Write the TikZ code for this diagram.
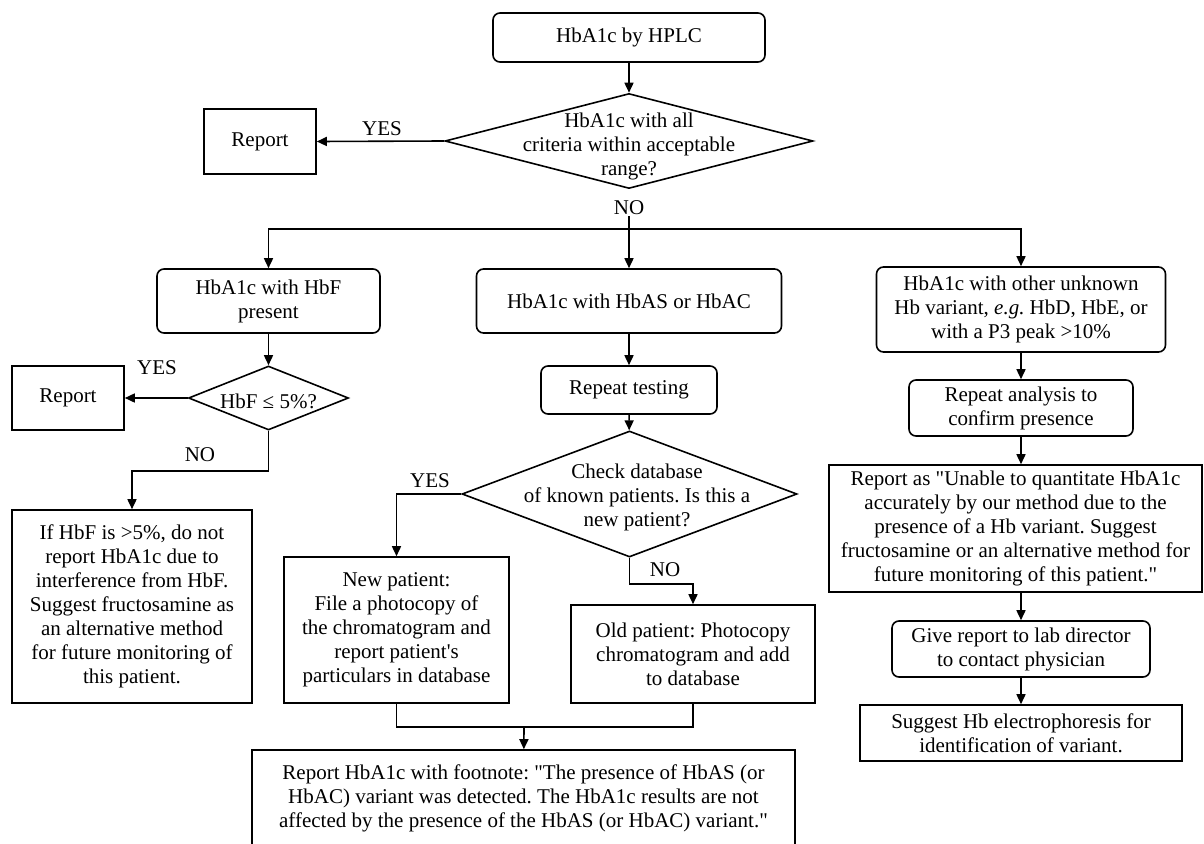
\documentclass[tikz,border=0pt]{standalone}
\usepackage{fontspec}
\setmainfont{Liberation Serif}[Ligatures=TeXOff]
\usetikzlibrary{shapes.geometric,arrows.meta}
\frenchspacing

\begin{document}
\begin{tikzpicture}[x=1pt,y=-1pt,font=\fontsize{21}{24}\selectfont]
	\tikzset{
		box/.style = {draw, line width=1.6pt, inner sep=0pt, align=center},
		rbox/.style = {box, rounded corners=7pt},
		decision/.style = {diamond, draw, line width=1.6pt, inner sep=0pt},
		txt/.style = {align=center, inner sep=1pt},
		arr/.style = {line width=1.6pt, -{Triangle[length=10pt,width=9pt]}},
		line/.style = {line width=1.6pt}
	}
	\useasboundingbox (0,0) rectangle (1204,843);
	\clip (0,0) rectangle (1204,843);

	\node[rbox, minimum width=272pt, minimum height=49pt] (top) at (629,37.5) {HbA1c by HPLC};
	\node[decision, minimum width=368pt, minimum height=95pt] (q1) at (629,141) {};
	\node[txt] (q1t) at (629,146) {HbA1c with all\\criteria within acceptable\\range?};
	\node[box, minimum width=112pt, minimum height=65pt] (rep1) at (260,141.5) {Report};
	\node[txt] (yes1) at (382,129) {YES};
	\node[txt] (no1) at (629,208) {NO};
	\coordinate (split) at (629,229);

	\node[rbox, minimum width=223pt, minimum height=64pt] (hbf) at (268.5,301) {HbA1c with HbF\\present};
	\node[rbox, minimum width=305pt, minimum height=64pt] (hbas) at (629,301) {HbA1c with HbAS or HbAC};
	\node[rbox, minimum width=289pt, minimum height=85pt] (other) at (1021,309.5) {HbA1c with other unknown\\Hb variant, \textit{e.g.} HbD, HbE, or\\with a P3 peak >10\%};

	\node[decision, minimum width=160pt, minimum height=64pt] (q2) at (268.5,398) {};
	\node[txt] (q2t) at (268.5,401) {HbF ≤ 5\%?};
	\node[box, minimum width=112pt, minimum height=64pt] (rep2) at (68,398) {Report};
	\node[txt] (yes2) at (157,368) {YES};
	\node[txt] (no2) at (200,455) {NO};
	\node[box, minimum width=240pt, minimum height=193pt] (hbfnote) at (132,606.5) {If HbF is >5\%, do not\\report HbA1c due to\\interference from HbF.\\Suggest fructosamine as\\an alternative method\\for future monitoring of\\this patient.};

	\node[rbox, minimum width=176pt, minimum height=48pt] (rept) at (629,390) {Repeat testing};
	\node[decision, minimum width=335pt, minimum height=126pt] (q3) at (629.5,494) {};
	\node[txt] (q3t) at (637,497) {Check database\\of known patients. Is this a\\new patient?};
	\node[txt] (yes3) at (430,481) {YES};
	\node[txt] (no3) at (665,570) {NO};
	\node[box, minimum width=225pt, minimum height=146pt] (newp) at (396.5,630) {New patient:\\File a photocopy of\\the chromatogram and\\report patient's\\particulars in database};
	\node[box, minimum width=244pt, minimum height=98pt] (oldp) at (693,654) {Old patient: Photocopy\\chromatogram and add\\to database};
	\coordinate (join) at (524,726);
	\node[box, minimum width=543pt, minimum height=100pt, text depth=8pt] (foot) at (523.5,800) {Report HbA1c with footnote: "The presence of HbAS (or\\HbAC) variant was detected. The HbA1c results are not\\affected by the presence of the HbAS (or HbAC) variant."};

	\node[rbox, minimum width=224pt, minimum height=56pt] (repa) at (1021,408) {Repeat analysis to\\confirm presence};
	\node[box, minimum width=373pt, minimum height=127pt] (unab) at (1015.5,528.5) {Report as "Unable to quantitate HbA1c\\accurately by our method due to the\\presence of a Hb variant. Suggest\\fructosamine or an alternative method for\\future monitoring of this patient."};
	\node[rbox, minimum width=258pt, minimum height=56pt] (give) at (1021,649) {Give report to lab director\\to contact physician};
	\node[box, minimum width=322pt, minimum height=56pt] (sugg) at (1021,733) {Suggest Hb electrophoresis for\\identification of variant.};

	\draw[arr] (top) -- (q1);
	\draw[arr] (q1.west) -- (rep1.east);
	\draw[line] (no1) -- (split);
	\draw[arr] (split) -| (hbf);
	\draw[arr] (split) -- (hbas);
	\draw[arr] (split) -| (other);

	\draw[arr] (hbf) -- (q2);
	\draw[arr] (q2.west) -- (rep2.east);
	\draw[arr] (q2.south) -- ++(0,40) -| (hbfnote);

	\draw[arr] (hbas) -- (rept);
	\draw[arr] (rept) -- (q3);
	\draw[arr] (q3.west) -| (newp);
	\draw[arr] (q3.south) -- ++(0,26) -| (oldp);
	\draw[line] (newp.south) -- ++(0,23) -| (oldp.south);
	\draw[arr] (join) -- (foot);

	\draw[arr] (other) -- (repa);
	\draw[arr] (repa) -- (repa |- unab.north);
	\draw[arr] (unab.south -| give) -- (give);
	\draw[arr] (give) -- (sugg);
\end{tikzpicture}
\end{document}
